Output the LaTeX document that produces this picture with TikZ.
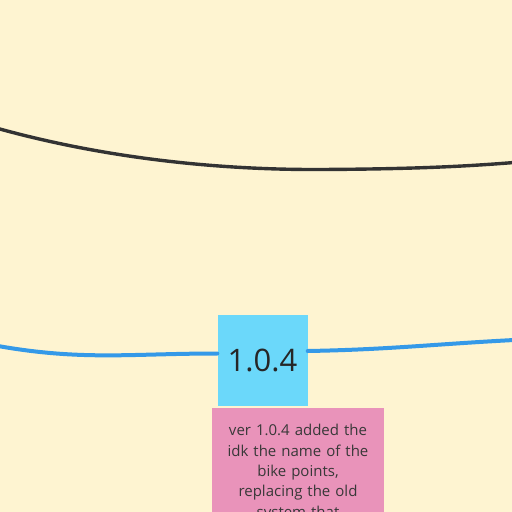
\documentclass[tikz,border=0pt]{standalone}
\usepackage{fontspec}
\setmainfont{Open Sans}
\usepackage{tikz}
\usetikzlibrary{positioning}
\definecolor{board}{HTML}{FEF4D1}
\definecolor{notecyan}{HTML}{6BD8FA}
\definecolor{notepink}{HTML}{E993BA}
\definecolor{lineblue}{HTML}{3499E8}
\definecolor{linedark}{HTML}{333333}
\tikzstyle{note}=[draw=none,inner sep=0pt,align=center]
\tikzstyle{vernote}=[note,fill=notecyan,minimum width=90pt,minimum height=91pt,text=black!85,font=\fontsize{31}{31}\selectfont]
\tikzstyle{textnote}=[note,fill=notepink,minimum width=172pt,text width=172pt,text=black!78,font=\fontsize{15}{20.3}\selectfont]
\tikzstyle{timeline}=[line width=4pt,lineblue,line cap=round]
\tikzstyle{thread}=[line width=3.4pt,linedark,line cap=round]

\begin{document}
\begin{tikzpicture}[x=1pt,y=-1pt]
  \clip (0,0) rectangle (512,512);
  \fill[board] (0,0) rectangle (512,512);
  % dark thread on top
  \coordinate (darkL) at (-2,128.5);
  \coordinate (darkM) at (320,169.5);
  \coordinate (darkR) at (514,162.5);
  \draw[thread] (darkL) .. controls (90,154) and (200,170) .. (darkM)
    .. controls (420,169) and (470,166) .. (darkR);
  % version note
  \node[vernote] (ver) at (262.5,360) {1.0.4};
  \node[textnote,anchor=north,below=2pt of ver.south,xshift=35.5pt] (info)
    {\rule{0pt}{28pt}ver 1.0.4 added the\\idk the name of the\\bike points,\\replacing the old\\system that\\\rule{0pt}{60pt}};
  % blue timeline
  \coordinate (blueL) at (-2,346);
  \coordinate (blueR) at (514,340);
  \draw[timeline] (blueL) to[out=-10,in=180] (ver.west |- 0,353.5);
  \draw[timeline] (ver.east |- 0,351) to[out=1,in=183] (blueR);
\end{tikzpicture}
\end{document}
